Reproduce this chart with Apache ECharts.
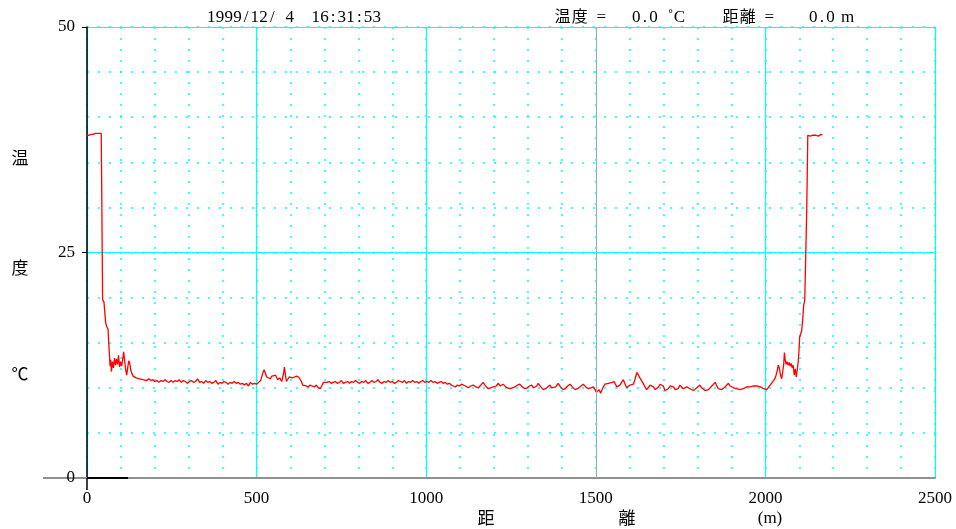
<!DOCTYPE html>
<html>
<head>
<meta charset="utf-8">
<script src="https://cdn.jsdelivr.net/npm/echarts@6/dist/echarts.min.js"></script>
<style>html,body{margin:0;padding:0;background:#fff;}#c{width:956px;height:529px;}</style>
</head>
<body>
<div id="c"></div>
<script>
// distance along fibre (m)
const distances = [
0,3,6,9,12,15,18,21,24,27,30,33,36,39,42,44,
46,50,53,55,58,62,64,66,68,70,72,75,78,81,84,87,90,93,96,99,102,105,108,111,114,117,120,123,126,129,132,136,140,145,150,155,160,165,170,
176,182,188,194,200,206,212,218,224,230,236,242,248,254,260,266,272,278,284,290,296,302,308,314,320,326,332,338,344,350,356,362,368,374,380,386,392,398,404,410,416,422,428,434,440,446,452,458,464,470,476,482,488,494,500,
506,512,518,522,526,530,535,540,545,550,556,562,568,574,579,582,585,588,592,596,600,606,612,618,624,628,632,636,640,646,652,658,664,670,676,682,688,692,697,
702,708,714,720,726,732,738,744,750,756,762,768,774,780,786,792,798,804,810,816,822,828,834,840,846,852,858,864,870,876,882,888,894,900,906,912,918,924,930,936,942,948,954,960,966,972,978,984,990,996,
1002,1008,1014,1020,1026,1032,1038,1044,1050,1056,1062,1068,1074,1080,1086,1092,1098,1104,1109,1116,1124,1131,1139,1146,1154,1161,1168,1175,1183,1190,1198,1206,1213,1218,1222,1227,1234,1240,1247,1254,1262,1269,1276,1283,1291,1298,
1304,1311,1316,1321,1326,1330,1338,1345,1352,1358,1365,1370,1375,1382,1389,1396,1404,1410,1417,1424,1431,1439,1446,1453,1458,1463,1470,1478,1485,1493,1498,
1502,1506,1510,1514,1517,1522,1527,1532,1537,1542,1548,1554,1558,1562,1566,1571,1576,1581,1586,1591,1596,1601,1606,1611,1616,1621,1626,1630,1635,1640,1645,1650,1655,1660,1665,1670,1675,1680,1685,1690,1694,1699,
1704,1709,1714,1719,1724,1729,1734,1739,1743,1748,1753,1758,1763,1768,1773,1778,1783,1788,1793,1798,1802,1807,1812,1817,1822,1827,1832,1837,1842,1847,1852,1857,1861,1866,1871,1876,1881,1886,1891,1896,
1901,1906,1910,1915,1920,1925,1930,1935,1940,1945,1950,1955,1960,1965,1970,1975,1980,1985,1990,1995,2000,
2004,2009,2014,2019,2024,2029,2033,2038,2041,2044,2048,2051,2054,2056,2058,2061,2064,2067,2070,2073,2076,2079,2082,2085,2088,2091,2094,2097,2099,
2101,2104,2107,2110,2113,2116,2119,2122,2125,2128,2132,2136,2140,2144,2148,2152,2156,2160,2164,2168
];
// temperature (°C)
const temps = [
38.0,38.1,38.0,38.2,38.1,38.2,38.1,38.2,38.2,38.1,38.2,38.3,38.2,38.3,38.2,38.2,
19.8,19.5,19.6,17.2,16.8,16.5,15.0,13.8,12.4,13.1,11.8,12.9,12.2,13.3,12.5,13.2,12.6,13.6,12.3,12.9,12.4,13.1,14.0,13.0,12.0,11.4,12.2,13.0,12.7,12.0,11.6,11.3,11.4,11.1,11.2,11.0,11.1,10.9,11.0,
10.8,11.0,10.8,10.9,10.7,10.8,10.6,10.8,10.7,10.9,10.7,10.6,10.8,10.6,10.8,10.7,10.9,10.6,10.8,10.7,10.5,10.7,10.8,10.6,10.7,11.0,10.6,10.7,10.5,10.8,10.6,10.7,10.5,10.6,10.8,10.4,10.6,10.5,10.7,10.6,10.4,10.6,10.5,10.7,10.5,10.6,10.4,10.5,10.3,10.5,10.2,10.6,10.4,10.5,10.4,
10.6,10.8,11.6,12.0,11.8,11.2,11.4,11.0,11.3,11.1,11.4,10.9,11.1,10.7,11.5,12.3,11.4,10.7,10.9,11.2,11.0,11.1,11.2,11.3,11.2,11.4,10.7,10.3,10.1,10.2,10.1,10.3,10.2,10.1,10.3,10.0,9.9,10.2,10.6,
10.5,10.6,10.7,10.5,10.6,10.7,10.5,10.6,10.8,10.5,10.6,10.7,10.5,10.7,10.6,10.8,10.6,10.5,10.7,10.6,10.8,10.5,10.6,10.8,10.6,10.7,10.9,10.6,10.5,10.7,10.6,10.8,10.6,10.7,10.5,10.6,10.8,10.7,10.6,10.8,10.5,10.7,10.6,10.8,10.6,10.7,10.5,10.7,10.8,10.6,
10.7,10.6,10.8,10.6,10.7,10.5,10.6,10.7,10.5,10.6,10.4,10.5,10.3,10.2,10.1,10.3,10.2,10.4,10.5,10.2,10.0,10.2,10.3,10.1,10.0,10.3,10.6,10.2,9.9,10.0,10.1,10.2,10.5,10.2,10.1,10.4,10.1,10.0,9.9,10.0,10.1,10.3,10.4,10.1,9.9,10.0,
10.2,10.3,10.0,9.9,10.2,10.5,10.1,9.8,9.9,10.1,10.3,10.0,9.8,10.1,10.5,10.1,9.8,9.9,10.2,10.4,10.1,9.8,9.9,10.1,10.2,10.4,10.1,9.9,10.0,10.1,9.8,
9.5,9.7,9.8,9.4,9.3,10.1,10.4,10.6,10.5,10.7,10.6,10.7,10.4,10.1,10.0,10.3,10.4,10.9,11.1,10.0,9.9,10.3,10.5,10.4,11.0,11.7,11.4,11.1,10.8,10.8,10.1,9.8,10.0,10.3,10.5,10.1,9.8,9.8,10.1,10.4,10.6,10.2,
9.7,9.7,9.9,10.2,10.4,10.1,9.8,9.8,9.9,10.3,10.2,9.9,9.9,10.1,10.2,9.9,9.8,9.7,9.9,10.0,10.2,10.3,10.0,9.8,9.7,9.7,9.8,10.0,10.2,10.4,10.6,10.2,9.9,9.8,9.8,9.9,10.1,10.3,10.5,10.2,
10.1,10.0,10.0,9.9,9.8,9.8,9.8,9.9,10.0,10.1,10.3,10.1,10.2,10.2,10.3,10.2,10.2,10.1,10.0,9.9,9.8,
9.8,10.0,10.3,10.5,10.8,11.1,11.6,12.5,12.2,11.5,11.0,11.2,12.6,13.9,13.2,12.6,12.9,12.5,12.8,12.4,12.7,12.2,12.5,11.4,12.1,11.2,12.0,13.0,14.1,
15.6,16.0,16.3,17.6,19.2,19.7,19.9,30.0,38.0,38.1,37.9,38.1,38.0,38.1,38.0,38.1,37.9,38.0,38.1,38.0
];
const xTickLabels = [0, 500, 1000, 1500, 2000, 2500];
const yTickLabels = [0, 25, 50];
const cursorDistance = 1500;
const baseSegment = [0, 121];
const headerStamp = '1999/12/ 4  16:31:53';

const seriesData = distances.map((d, i) => [d, temps[i]]);
const serif = '"Liberation Serif", "Noto Sans CJK JP", serif';
const CY = '#00ffff';
const off = {show: false};

const chart = echarts.init(document.getElementById('c'));
function txt(x, y, t, align) {
  return {type: 'text', x: x, y: y, silent: true,
    style: {text: t, font: '17px ' + serif, fill: '#000', align: align || 'left', verticalAlign: 'middle'}};
}
// monospace-like placement: half-width cells for ASCII, full-width for CJK
function mono(x0, y, str, pitch) {
  const out = [];
  let u = 0;
  for (const ch of str) {
    const w = ch.charCodeAt(0) > 255 && ch !== '˚' ? 2 : 1;
    if (ch !== ' ') {
      out.push({type: 'text', x: x0 + (u + w / 2) * pitch, y: y, silent: true,
        style: {text: ch, font: (w === 2 ? '16px ' : '17px ') + serif, fill: '#000', align: 'center', verticalAlign: 'middle'}});
    }
    u += w;
  }
  return out;
}
const baseX = {type: 'value', min: 0, max: 2500, position: 'bottom'};
const baseY = {type: 'value', min: 0, max: 50, position: 'left'};
chart.setOption({
  animation: false,
  backgroundColor: '#fff',
  grid: {left: 87, right: 21, top: 27, bottom: 51},
  xAxis: [
    Object.assign({}, baseX, {interval: 100, axisLine: off, axisTick: off, axisLabel: off,
      splitLine: {show: true, lineStyle: {color: CY, width: 1.5, type: [2, 9]}}}),
    Object.assign({}, baseX, {interval: 500, axisLine: off, axisTick: off,
      axisLabel: {show: true, margin: 12, color: '#000', fontSize: 17, fontFamily: serif,
        formatter: function (v) { return xTickLabels.indexOf(v) >= 0 ? String(v) : ''; }},
      splitLine: {show: true, lineStyle: {color: CY, width: 1.2}}}),
    Object.assign({}, baseX, {interval: 500,
      axisLine: {show: true, onZero: false, lineStyle: {color: '#909090', width: 2}},
      axisTick: {show: true, customValues: [0], length: 12, lineStyle: {color: '#000', width: 1.5}},
      axisLabel: off, splitLine: off})
  ],
  yAxis: [
    Object.assign({}, baseY, {interval: 5, axisLine: off, axisTick: off, axisLabel: off,
      splitLine: {show: true, lineStyle: {color: CY, width: 1.5, type: [2, 9]}}}),
    Object.assign({}, baseY, {interval: 25, axisLine: off, axisTick: off,
      axisLabel: {show: true, margin: 12, color: '#000', fontSize: 17, fontFamily: serif,
        formatter: function (v) { return yTickLabels.indexOf(v) >= 0 ? String(v) : ''; }},
      splitLine: {show: true, lineStyle: {color: CY, width: 1.2}}}),
    Object.assign({}, baseY, {interval: 25,
      axisLine: {show: true, onZero: false, lineStyle: {color: '#000', width: 1.5}},
      axisTick: {show: true, customValues: [25, 50], length: 5, lineStyle: {color: '#000'}},
      axisLabel: off, splitLine: off}),
    Object.assign({}, baseY, {interval: 25, axisLine: off,
      axisTick: {show: true, customValues: [0], length: 44, lineStyle: {color: '#909090', width: 2}},
      axisLabel: off, splitLine: off})
  ],
  series: [{
    type: 'line', xAxisIndex: 0, yAxisIndex: 0, data: seriesData,
    showSymbol: false, clip: false, z: 5,
    lineStyle: {color: '#ff0000', width: 1.3},
    markLine: {
      silent: true, symbol: 'none', label: {show: false}, z: 6,
      data: [
        {xAxis: cursorDistance, lineStyle: {color: '#a8a8a8', width: 1, type: 'solid'}},
        [{coord: [baseSegment[0], 0], lineStyle: {color: '#000', width: 2, type: 'solid'}}, {coord: [baseSegment[1], 0]}]
      ]
    }
  }],
  graphic: [].concat(
    mono(207, 18, headerStamp, 8.7),
    mono(554, 18, '温度 =', 8.6),
    mono(632, 18, '0.0 ˚C', 8.6),
    mono(722, 18, '距離 =', 8.6),
    mono(809, 18, '0.0 m', 8.6),
    [
      txt(20, 160, '温', 'center'),
      txt(20, 270, '度', 'center'),
      txt(20, 376, '℃', 'center'),
      txt(486, 520, '距', 'center'),
      txt(627, 520, '離', 'center'),
      txt(770, 519, '(m)', 'center')
    ]
  )
});
</script>
</body>
</html>
